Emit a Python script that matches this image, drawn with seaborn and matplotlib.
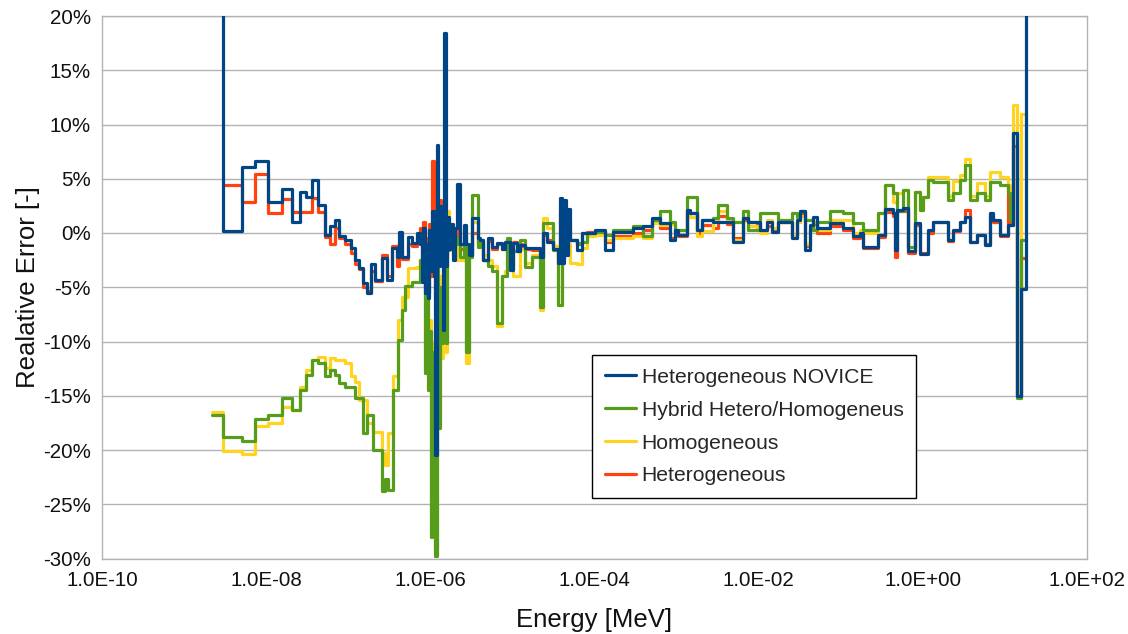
import numpy as np
import pandas as pd
import matplotlib
matplotlib.use("Agg")
import matplotlib.pyplot as plt
from matplotlib.ticker import FixedLocator, FuncFormatter, NullLocator
from matplotlib.lines import Line2D
import seaborn as sns

# ---- data (energy group boundaries as log10(E/MeV), relative error in %) ----
energy_exp = [
    -8.664, -8.530, -8.291, -8.136, -7.972, -7.811, -7.689, -7.588, -7.509, -7.442,
    -7.365, -7.284, -7.217, -7.162, -7.107, -7.040, -6.967, -6.918, -6.870, -6.821,
    -6.776, -6.727, -6.699, -6.675, -6.593, -6.553, -6.532, -6.510, -6.471, -6.449,
    -6.410, -6.395, -6.379, -6.340, -6.309, -6.269, -6.224, -6.157, -6.127, -6.102,
    -6.084, -6.066, -6.048, -6.029, -6.011, -5.993, -5.974, -5.956, -5.938, -5.920,
    -5.901, -5.883, -5.865, -5.847, -5.828, -5.810, -5.792, -5.773, -5.749, -5.725,
    -5.700, -5.670, -5.633, -5.591, -5.566, -5.524, -5.493, -5.420, -5.396, -5.359,
    -5.298, -5.244, -5.189, -5.122, -5.091, -5.067, -5.030, -4.994, -4.945, -4.909,
    -4.884, -4.848, -4.762, -4.665, -4.628, -4.574, -4.507, -4.446, -4.421, -4.397,
    -4.373, -4.342, -4.318, -4.294, -4.214, -4.153, -4.093, -3.995, -3.934, -3.873,
    -3.776, -3.532, -3.410, -3.301, -3.203, -3.082, -3.021, -2.984, -2.875, -2.838,
    -2.753, -2.692, -2.558, -2.497, -2.387, -2.314, -2.192, -2.132, -2.022, -1.985,
    -1.900, -1.839, -1.766, -1.596, -1.535, -1.498, -1.437, -1.376, -1.340, -1.291,
    -1.133, -0.974, -0.853, -0.767, -0.731, -0.548, -0.463, -0.365, -0.335, -0.311,
    -0.244, -0.183, -0.097, -0.037, 0.000, 0.061, 0.122, 0.305, 0.365, 0.451,
    0.512, 0.573, 0.658, 0.755, 0.816, 0.853, 0.938, 1.035, 1.066, 1.096,
    1.145, 1.200, 1.255,
]

novice = [
    60.0, 0.2, 6.1, 6.6, 2.9, 4.1, 1.0, 3.8, 3.3, 4.9,
    2.6, -0.2, 0.6, 1.2, -0.3, -0.6, -1.4, -2.5, -3.2, -4.6,
    -5.5, -2.9, -2.9, -4.3, -2.3, -2.3, -4.3, -4.3, -1.4, -1.4,
    -2.2, -2.2, 0.1, -2.2, -2.2, -0.4, -0.9, 0.0, -1.0, -4.5,
    0.5, -5.5, -1.0, -6.0, 0.3, -3.5, 2.0, -4.0, -20.5, 8.1,
    -3.0, 2.5, -1.0, -8.9, 18.4, -3.0, 1.5, -1.5, 0.8, -2.5,
    0.5, 4.5, -1.0, 0.7, -1.0, -2.0, 1.4, -0.5, -0.6, -2.5,
    -0.5, -1.3, -0.9, -1.5, -0.8, -0.8, -3.4, -0.9, -1.7, -1.1,
    -1.1, -1.4, -1.4, -2.2, 0.0, -0.8, -1.5, -2.8, 3.2, -2.8,
    3.0, -2.0, 2.2, -0.6, -1.6, 0.0, 0.0, 0.3, 0.3, -1.6,
    0.1, 0.5, 0.6, 1.4, 0.9, -0.6, 0.3, -0.2, 2.1, 1.8,
    0.3, 1.2, 1.0, 1.0, 1.0, -0.8, 1.4, 1.0, 1.0, 0.3,
    1.0, 0.1, 1.0, -0.5, 1.2, 2.0, -1.6, 0.7, 1.5, 0.5,
    0.9, 0.5, -0.3, 0.0, -1.3, -0.2, 2.2, 1.8, -1.6, 2.1,
    2.3, -1.7, 0.9, -1.9, -1.9, 0.3, 1.0, -0.6, 0.3, 1.0,
    1.5, -0.8, -0.2, -1.1, 1.8, 1.2, -0.2, 0.7, 0.7, 9.2,
    -15.0, -5.2, 60.0,
]

heterogeneous = [
    np.nan, 4.4, 2.9, 5.4, 1.8, 3.1, 1.9, 1.9, 1.9, 3.2,
    1.9, -0.4, -1.0, 0.5, -0.5, -1.0, -1.8, -2.9, -3.3, -5.0,
    -5.3, -3.5, -3.5, -4.4, -2.0, -2.0, -4.0, -4.0, -1.2, -1.2,
    -3.0, -3.0, -0.8, -2.4, -2.4, -1.0, -1.2, -0.3, 0.5, -3.5,
    1.0, -5.0, -0.5, -5.5, 0.8, -4.0, 6.6, -3.0, -6.0, 2.0,
    -2.0, 3.0, 0.0, -5.0, 1.0, -2.0, 0.5, -1.2, 0.0, -2.0,
    -0.5, 0.5, -1.5, 0.0, -1.5, -2.0, 0.0, -0.8, -0.6, -2.5,
    -0.7, -1.5, -1.0, -1.5, -1.0, -1.0, -3.0, -0.8, -1.7, -1.0,
    -1.2, -1.5, -1.6, -2.3, -0.2, -0.6, -1.2, -2.5, 2.0, -1.0,
    1.5, -0.5, 1.0, -0.6, -1.0, 0.0, 0.1, 0.2, 0.2, -0.8,
    -0.3, 0.0, 0.3, 1.0, 0.5, -0.5, 0.0, -0.3, 1.8, 1.8,
    0.0, 0.7, 0.5, 1.6, 0.8, -0.5, 1.2, 1.0, 0.8, 0.2,
    0.6, 0.3, 1.0, -0.3, 1.0, 1.8, -1.2, 0.3, 0.8, 0.0,
    0.6, 0.3, -0.5, -0.2, -1.4, -0.4, 1.9, 1.6, -2.2, 2.0,
    2.0, -1.8, 0.7, -1.8, -1.8, 0.0, 1.0, -0.7, 0.2, 1.0,
    2.1, -0.8, -0.2, -1.0, 1.5, 1.0, -0.3, 4.3, 0.7, 8.0,
    -15.0, -2.3, -2.3,
]

hybrid = [
    -16.8, -18.8, -19.2, -17.1, -16.8, -15.2, -16.3, -14.5, -13.1, -11.7,
    -12.0, -13.2, -12.6, -13.1, -13.8, -14.2, -14.2, -15.2, -15.2, -18.4,
    -16.8, -16.8, -20.0, -20.0, -23.8, -22.7, -22.7, -23.7, -23.7, -14.5,
    -14.5, -9.9, -9.9, -7.1, -4.9, -4.9, -4.5, -4.5, -2.5, -4.0,
    -2.5, -12.9, -6.0, -14.5, -9.0, -28.0, -11.0, -26.0, -29.8, -0.3,
    -18.0, -5.0, -10.1, -7.0, -1.0, -10.1, -1.6, -1.5, -0.8, 0.0,
    -0.5, -1.0, -2.2, -1.0, -11.0, -2.2, 3.5, -1.3, -0.9, -2.5,
    -3.0, -3.5, -8.3, -4.0, -4.0, -0.5, -1.7, -1.7, -1.7, -0.6,
    -0.6, -3.1, -2.2, -6.8, 0.9, 0.9, -1.6, -6.6, -6.6, -0.6,
    -0.6, -0.6, -0.6, -0.6, -0.9, -0.8, 0.0, 0.1, 0.1, -0.2,
    0.3, 0.6, -0.3, 1.2, 2.0, 1.0, 0.3, 0.3, 3.3, 3.3,
    0.3, 1.2, 1.4, 2.6, 1.4, 1.0, 2.0, 0.3, 0.3, 1.8,
    1.8, 1.8, 1.2, 1.8, 1.5, 2.0, 1.2, 1.2, 0.3, 1.0,
    2.0, 1.8, 0.9, 0.9, 0.3, 1.8, 4.4, 3.7, 3.7, 2.0,
    4.0, -1.3, 3.8, 2.1, 3.3, 4.9, 4.7, 3.0, 3.7, 4.9,
    6.3, 3.0, 3.7, 3.0, 4.7, 4.7, 4.4, 3.7, 1.2, 9.2,
    -15.2, -0.6, -0.6,
]

homogeneous = [
    -16.5, -20.1, -20.4, -17.8, -17.5, -16.0, -16.3, -14.2, -12.6, -11.7,
    -11.4, -12.4, -11.5, -11.7, -11.7, -12.0, -13.2, -13.7, -15.4, -15.4,
    -17.5, -17.5, -18.3, -18.3, -20.3, -21.4, -21.4, -18.4, -18.4, -13.2,
    -13.2, -8.0, -8.0, -5.9, -5.9, -3.2, -3.2, -3.1, -2.5, -3.0,
    -1.5, -12.0, -5.0, -13.0, -8.0, -26.0, -10.0, -25.0, -29.0, 1.0,
    -17.0, -4.0, -11.5, -8.0, 0.5, -11.0, 2.0, -1.0, 0.5, 0.3,
    -1.0, -2.5, -2.5, -0.5, -12.0, -1.5, 1.0, -1.0, -1.0, -2.0,
    -2.5, -3.0, -8.6, -4.0, -3.5, -1.0, -2.0, -4.0, -4.0, -1.5,
    -1.5, -2.8, -2.0, -7.1, 1.4, 0.5, -1.2, -6.6, -6.6, 0.2,
    -0.5, -1.0, -1.0, -2.8, -2.9, -1.4, -0.3, -0.2, -0.2, -0.6,
    -0.5, -0.3, -0.5, 0.9, 0.7, 0.8, 0.2, -0.2, 2.0, 1.5,
    -0.3, 0.2, 1.0, 2.0, 1.2, -0.6, 2.0, 0.6, 0.5, 0.0,
    1.2, 0.5, 1.0, -0.3, 1.0, 1.6, -1.0, 0.5, 1.0, 0.3,
    1.2, 1.2, 0.0, 0.3, 0.0, 1.8, 4.4, 2.9, 2.9, 3.7,
    4.0, -1.3, 3.8, 2.1, 3.3, 5.2, 5.2, 3.4, 4.8, 5.3,
    6.8, 3.4, 4.6, 3.4, 5.6, 5.6, 5.2, 4.4, 3.5, 11.8,
    -15.0, 11.0, -0.6,
]

series_names = ["Heterogeneous NOVICE", "Hybrid Hetero/Homogeneus",
                "Homogeneous", "Heterogeneous"]
series_colors = ["#004586", "#579d1c", "#ffd320", "#ff420e"]
series_values = [novice, hybrid, homogeneous, heterogeneous]
draw_order = [3, 2, 1, 0]   # red, yellow, green, blue(on top)

x_ticks = [1e-10, 1e-8, 1e-6, 1e-4, 1e-2, 1e0, 1e2]
y_ticks = [-30, -25, -20, -15, -10, -5, 0, 5, 10, 15, 20]

# ---- styling ----
sns.set_theme(style="white")
plt.rcParams["font.family"] = ["Liberation Sans", "DejaVu Sans"]
plt.rcParams["axes.unicode_minus"] = False

fig = plt.figure(figsize=(11.28, 6.34), dpi=100)
ax = fig.add_axes([102 / 1128, 1 - 558.5 / 634, (1087 - 102) / 1128, (558.5 - 16) / 634])

energy = 10.0 ** np.array(energy_exp)
for z, idx in enumerate(draw_order):
    df = pd.DataFrame({"energy": energy, "err": series_values[idx]}).dropna()
    sns.lineplot(data=df, x="energy", y="err", ax=ax, color=series_colors[idx],
                 estimator=None, sort=False, drawstyle="steps-post",
                 linewidth=2.3, legend=False, zorder=2 + z)

ax.set_xscale("log")
ax.set_xlim(1e-10, 1e2)
ax.set_ylim(-30, 20)
ax.xaxis.set_major_locator(FixedLocator(x_ticks))
ax.xaxis.set_minor_locator(NullLocator())
ax.xaxis.set_major_formatter(FuncFormatter(lambda v, p: f"{v:.1E}"))
ax.yaxis.set_major_locator(FixedLocator(y_ticks))
ax.yaxis.set_major_formatter(FuncFormatter(lambda v, p: f"{int(round(v))}%"))

grid_c = "#b3b3b3"
ax.grid(axis="y", color=grid_c, linewidth=1.0)
ax.grid(axis="x", visible=False)
for s in ax.spines.values():
    s.set_color(grid_c)
    s.set_linewidth(1.0)
ax.tick_params(axis="both", which="major", direction="out", length=4,
               width=1.0, color=grid_c, labelsize=14.8, labelcolor="#111111")
ax.tick_params(axis="x", pad=5)
ax.tick_params(axis="y", pad=4)

ax.set_xlabel("Energy [MeV]", fontsize=18.5, labelpad=13, color="#111111")
ax.set_ylabel("Realative Error [-]", fontsize=18.5, labelpad=2, color="#111111")

handles = [Line2D([0], [0], color=c, lw=2.3) for c in series_colors]
leg = fig.legend(handles, series_names, loc="upper left",
                 bbox_to_anchor=(592 / 1128, 1 - 355 / 634),
                 fontsize=15.2, frameon=True, fancybox=False, shadow=False,
                 framealpha=1, edgecolor="black", borderpad=0.6,
                 labelspacing=0.66, handlelength=1.5, handletextpad=0.25,
                 borderaxespad=0)
leg.get_frame().set_linewidth(1.0)

fig.savefig("out.png", dpi=100)
